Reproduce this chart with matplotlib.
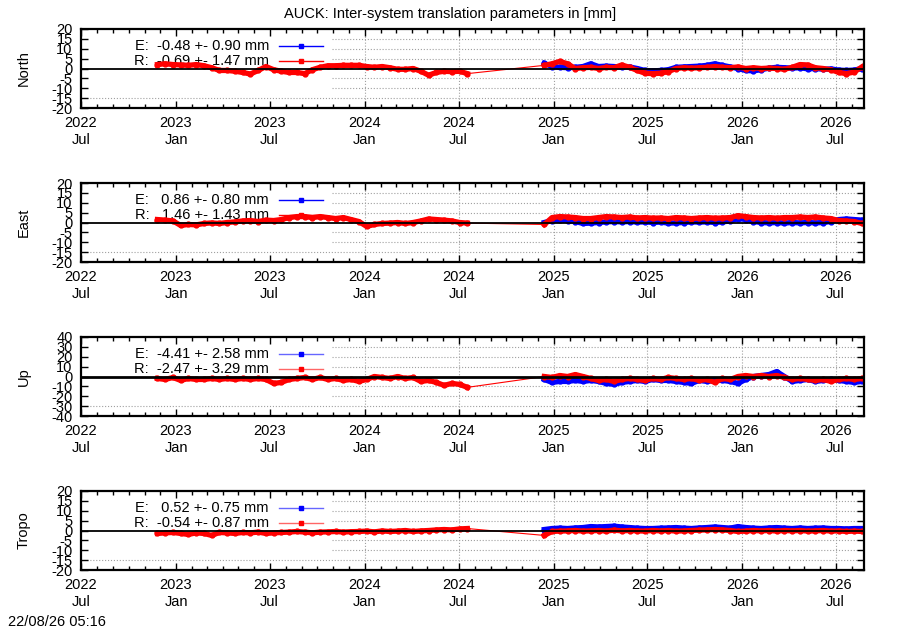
import matplotlib
matplotlib.use('Agg')
import matplotlib.pyplot as plt
import matplotlib.dates as mdates
import numpy as np
import pandas as pd

plt.rcParams['font.family'] = ['Liberation Sans', 'DejaVu Sans']

# values, one sample every 15 days
seg1_start = '2022-11-26'
seg2_start = '2024-12-14'

components = ['North', 'East', 'Up', 'Tropo']
ylims = [20, 20, 40, 20]
e_mean = [-0.48, 0.86, -4.41, 0.52]
e_sd = [0.90, 0.80, 2.58, 0.75]
r_mean = [-0.69, 1.46, -2.47, -0.54]
r_sd = [1.47, 1.43, 3.29, 0.87]

north_r1 = [2.0, 2.4, 2.0, 1.8, 1.6, 2.0, 1.4, 0.4, -1.0, -1.0, -1.4, -2.0, -2.8, -1.0,
            1.0, -0.6, -1.4, -2.0, -2.0, -2.6, -0.6, 0.6, 1.4, 1.4, 1.6, 1.6, 1.6, 1.0,
            0.6, 1.0, 0.4, -0.4, -0.4, 0.0, -1.4, -3.4, -2.0, -1.4, -1.6, -1.4, -2.6]
north_r2 = [1.6, 2.4, 3.6, 2.4, 0.0, 0.4, 0.6, 0.0, 0.6, 0.4, 1.8, 0.6, -1.0, -2.4,
            -2.6, -2.4, -1.6, 0.0, 0.4, 0.2, 0.4, 0.6, 1.0, 0.6, 0.4, 0.8, 0.0, 0.4,
            0.0, 0.2, 0.0, -0.4, 0.6, 2.0, 1.8, 0.4, 0.0, -0.6, -2.0, -2.6, -1.8, 0.8]
north_e2 = [2.6, 1.0, 0.6, 0.4, 0.6, 1.0, 2.4, 1.0, 1.2, 1.0, 0.6, 0.8, 0.0, -1.0,
            -1.2, -1.0, -0.6, 0.6, 0.8, 1.0, 1.2, 1.6, 2.4, 1.6, 0.8, 0.0, -1.0, -1.2,
            -0.6, 0.2, 0.6, 0.4, 0.2, 0.4, -0.2, 0.0, -0.4, -0.2, -0.8, -1.0, -0.8, 0.0]

east_r1 = [1.5, 1.2, 0.8, -1.5, -1.0, -1.2, -0.5, -0.2, -0.5, 0.0, 0.3, 0.8, 1.0, 0.5,
           1.2, 1.0, 1.5, 2.5, 3.0, 3.0, 2.5, 3.0, 2.5, 2.0, 2.5, 1.5, 0.5, -2.0,
           -1.0, -0.5, -0.3, 0.0, -0.5, 0.0, 0.8, 1.8, 1.5, 1.2, 0.8, 0.0, -0.3]
east_r2 = [-1.0, 2.5, 3.0, 2.8, 2.5, 2.0, 2.0, 2.5, 3.0, 2.8, 2.5, 2.8, 2.3, 2.5,
           2.2, 2.3, 2.0, 2.5, 2.3, 2.0, 2.3, 2.5, 2.2, 2.3, 2.5, 3.5, 3.0, 2.5,
           2.3, 2.5, 2.2, 2.5, 2.5, 2.8, 2.5, 2.8, 2.3, 2.0, 1.0, 0.8, 0.5, -0.5]
east_e2 = [0.0, 1.0, 1.2, 1.0, 0.5, -0.5, -0.3, 0.0, 0.3, 0.5, 0.3, 0.5, 0.2, 0.3,
           0.0, 0.2, -0.3, -0.2, 0.0, 0.3, 0.2, 0.3, 0.0, 0.3, 0.8, 2.0, 1.5, 0.5,
           0.0, -0.2, 0.0, -0.3, 0.0, -0.2, 0.0, -0.2, 0.0, 0.5, 1.5, 1.8, 1.5, 1.2]

up_r1 = [-2, -3, -1, -4, -2, -3, -3, -2, -3, -2, -3, -2, -3, -2,
         -3, -7, -6, -3, -2, -1, -3, -1, -3, -2, -4, -3, -5, -3,
         0, -1, -2, 0, -2, -1, -5, -4, -6, -9, -7, -8, -11]
up_r2 = [0, -1, 1, 0, 2, 0, -2, -4, -3, -5, -3, -2, -3, -4,
         -2, -3, -1, -2, -3, -2, -4, -3, -6, -2, -3, 0, 1, 0,
         1, 0, 1, -1, -3, -2, -3, -4, -3, -5, -3, -2, -3, -2]
up_e2 = [-3, -6, -5, -5, -4, -5, -4, -5, -7, -8, -6, -5, -4, -5,
         -3, -4, -4, -5, -6, -7, -4, -5, -4, -4, -5, -7, -3, 0,
         1, 2, 5, 0, -5, -4, -3, -5, -4, -3, -4, -5, -6, -5]

tropo_r1 = [-1.5, -1.2, -1.0, -1.5, -2.0, -1.2, -1.5, -2.5, -1.0, -1.2, -1.5, -1.0, -1.2, -0.8,
            -1.5, -1.2, -1.0, -0.8, -0.5, -0.8, -1.2, -0.8, -0.7, -0.5, -0.8, -0.6, -0.5, -0.3,
            -0.7, -0.2, -0.5, -0.3, 0.0, -0.5, -0.2, 0.0, 0.3, 0.5, 0.3, 0.8, 1.0]
tropo_r2 = [-2.5, -0.5, -0.3, -0.2, 0.0, -0.3, -0.2, 0.0, -0.3, 0.2, -0.2, 0.0, -0.2, -0.3,
            0.0, -0.2, 0.0, -0.3, -0.2, 0.0, 0.2, 0.3, 0.5, 0.3, 0.0, -0.5, -0.3, 0.0,
            -0.2, 0.0, -0.3, 0.0, -0.2, 0.0, -0.3, -0.2, 0.0, -0.3, -0.2, -0.5, -0.3, -0.5]
tropo_e2 = [0.5, 1.0, 1.2, 1.0, 1.3, 1.5, 2.0, 1.8, 2.0, 2.2, 1.8, 1.5, 1.2, 1.0,
            1.0, 1.2, 1.3, 1.5, 1.2, 1.0, 1.3, 1.5, 1.8, 1.5, 1.2, 2.0, 1.5, 1.2,
            1.0, 1.3, 1.5, 1.2, 1.0, 1.3, 1.0, 1.2, 1.3, 1.0, 1.0, 0.8, 1.0, 1.0]

r1_all = [north_r1, east_r1, up_r1, tropo_r1]
r2_all = [north_r2, east_r2, up_r2, tropo_r2]
e2_all = [north_e2, east_e2, up_e2, tropo_e2]

xmin = pd.Timestamp('2022-07-01')
xmax = pd.Timestamp('2026-08-25')

fig = plt.figure(figsize=(9, 6.3), dpi=100)
fig.text(0.5, 1 - 14 / 630, 'AUCK: Inter-system translation parameters in [mm]',
         ha='center', va='center', fontsize=10.5)
fig.text(8 / 900, 1 - 622 / 630, '22/08/26 05:16', ha='left', va='center', fontsize=10.5)

tops = [29, 183, 337, 491]
key_edge = 0.3206  # right edge of the key area, grid hidden left of it

for k, name in enumerate(components):
    ax = fig.add_axes([81 / 900, 1 - (tops[k] + 79) / 630, 783 / 900, 79 / 630])
    lim = ylims[k]
    ax.set_xlim(xmin, xmax)
    ax.set_ylim(-lim, lim)
    yt = np.arange(-lim, lim + 1, lim / 4)
    ax.set_yticks(yt)
    ax.set_yticklabels([f'{v:g}' for v in yt])
    ax.xaxis.set_major_locator(mdates.MonthLocator(bymonth=[1, 7]))
    ax.xaxis.set_minor_locator(mdates.MonthLocator())
    ax.xaxis.set_major_formatter(mdates.DateFormatter('%Y\n%b'))
    ax.tick_params(which='both', direction='in', top=True, right=True, labelsize=10.5)
    ax.tick_params(which='major', length=5, width=1, pad=6)
    ax.tick_params(which='minor', length=3, width=1)
    for s in ax.spines.values():
        s.set_linewidth(1.6)

    # grid, as the reference shows it
    for t in yt:
        if t == 0 or abs(t) == lim:
            continue
        frac = (t + lim) / (2 * lim)
        ax.axhline(t, xmin=key_edge if frac > 0.2 else 0, color='#a0a0a0',
                   ls=':', lw=0.8, zorder=0.5)
    for d in pd.date_range('2022-07-01', '2026-07-01', freq='6MS'):
        f = (d - xmin) / (xmax - xmin)
        if f > key_edge:
            ax.axvline(d, color='#a0a0a0', ls=':', lw=0.8, zorder=0.5)

    x1 = pd.date_range(seg1_start, periods=len(r1_all[k]), freq='15D')
    x2 = pd.date_range(seg2_start, periods=len(r2_all[k]), freq='15D')
    xe = pd.date_range(seg2_start, periods=len(e2_all[k]), freq='15D')

    ax.plot(xe, e2_all[k], color='#0000ff', lw=3.8, marker='o', ms=3.5, zorder=2)
    ax.plot([x1[-1], x2[0]], [r1_all[k][-1], r2_all[k][0]], color='#ff0000', lw=0.8, zorder=2.1)
    ax.plot(x1, r1_all[k], color='#ff0000', lw=3.8, marker='o', ms=3.5, zorder=2.2)
    ax.plot(x2, r2_all[k], color='#ff0000', lw=3.8, marker='o', ms=3.5, zorder=2.2)
    ax.axhline(0, color='black', lw=2.0 if k == 2 else 1.3, zorder=3)

    # key
    for j, (lab, m, sd, col) in enumerate([('E', e_mean[k], e_sd[k], '#0000ff'),
                                            ('R', r_mean[k], r_sd[k], '#ff0000')]):
        yk = 0.785 - j * 0.19
        ax.text(0.240, yk, f'{lab}: {m:6.2f} +- {sd:4.2f} mm', transform=ax.transAxes,
                ha='right', va='center', fontsize=10.5, zorder=1)
        ax.plot([0.253, 0.309], [yk, yk], transform=ax.transAxes, color=col, lw=1,
                alpha=0.6 if k >= 2 else 1, zorder=1)
        ax.plot([0.281], [yk], transform=ax.transAxes, color=col, marker='s', ms=2.5, zorder=1)

    ax.set_ylabel(name, fontsize=10.5)
    ax.yaxis.set_label_coords(-0.064, 0.5)

fig.savefig('out.png', dpi=100)
